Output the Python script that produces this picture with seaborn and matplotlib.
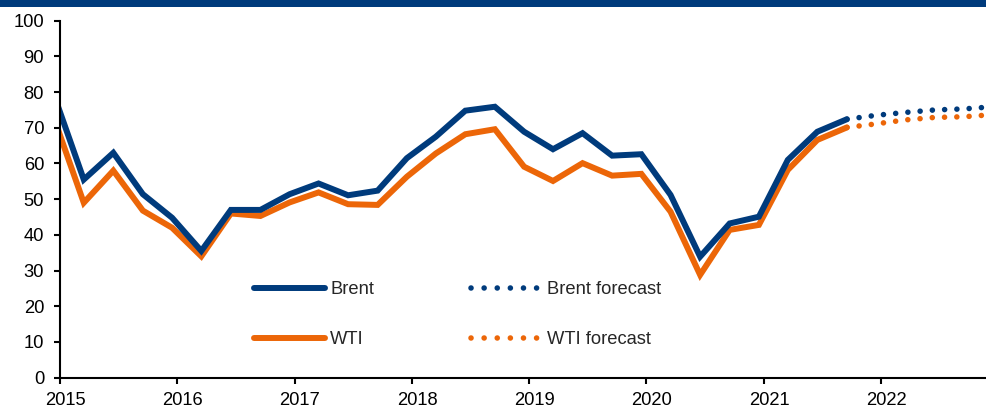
import numpy as np
import pandas as pd
import matplotlib
matplotlib.use("Agg")
import matplotlib.pyplot as plt
import matplotlib.dates as mdates
import matplotlib.transforms as mtransforms
from matplotlib.lines import Line2D
from matplotlib.patches import Rectangle
import seaborn as sns

# quarterly averages, USD/bbl
quarters = ["2014Q4",
            "2015Q1", "2015Q2", "2015Q3", "2015Q4",
            "2016Q1", "2016Q2", "2016Q3", "2016Q4",
            "2017Q1", "2017Q2", "2017Q3", "2017Q4",
            "2018Q1", "2018Q2", "2018Q3", "2018Q4",
            "2019Q1", "2019Q2", "2019Q3", "2019Q4",
            "2020Q1", "2020Q2", "2020Q3", "2020Q4",
            "2021Q1", "2021Q2", "2021Q3"]
brent = [78.5,
         55.5, 63.0, 51.4, 44.8,
         35.5, 47.0, 47.0, 51.4,
         54.4, 51.1, 52.4, 61.5,
         67.5, 74.8, 75.9, 68.9,
         64.0, 68.5, 62.2, 62.6,
         51.2, 33.9, 43.2, 45.1,
         61.0, 68.9, 72.4]
wti = [72.0,
       49.0, 58.0, 46.8, 42.0,
       34.0, 46.0, 45.3, 49.1,
       51.9, 48.6, 48.4, 56.3,
       62.8, 68.2, 69.6, 59.1,
       55.1, 60.1, 56.6, 57.1,
       46.5, 28.8, 41.4, 42.8,
       58.2, 66.6, 70.1]

fc_quarters = ["2021Q3", "2021Q4", "2022Q1", "2022Q2", "2022Q3", "2022Q4"]
brent_fc = [72.4, 73.5, 74.3, 75.0, 75.3, 75.9]
wti_fc = [70.1, 71.1, 72.2, 72.9, 73.1, 73.7]

BLUE = "#003B7C"
ORANGE = "#EC6608"
FS = 13.2


def q_to_date(q):
    # points sit in the middle of the last month of each quarter
    p = pd.PeriodIndex(q, freq="Q").asfreq("M", "end").to_timestamp()
    return p + pd.Timedelta(days=15)


hist = pd.DataFrame({"date": q_to_date(quarters), "Brent": brent, "WTI": wti})
fc = pd.DataFrame({"date": q_to_date(fc_quarters), "Brent": brent_fc, "WTI": wti_fc})

sns.set_style("ticks")
plt.rcParams["font.family"] = ["Liberation Sans", "DejaVu Sans"]

fig = plt.figure(figsize=(9.86, 4.07), dpi=100)
ax = fig.add_axes([60 / 986, 1 - 377.7 / 407, 925 / 986, 357 / 407])

dots = (0, (0.01, 2.2))
sns.lineplot(data=hist, x="date", y="Brent", ax=ax, color=BLUE, lw=4.3,
             solid_capstyle="round", solid_joinstyle="miter", zorder=3)
sns.lineplot(data=hist, x="date", y="WTI", ax=ax, color=ORANGE, lw=4.3,
             solid_capstyle="round", solid_joinstyle="miter", zorder=2)
sns.lineplot(data=fc, x="date", y="Brent", ax=ax, color=BLUE, lw=4.0,
             linestyle=dots, dash_capstyle="round", zorder=3)
sns.lineplot(data=fc, x="date", y="WTI", ax=ax, color=ORANGE, lw=4.0,
             linestyle=dots, dash_capstyle="round", zorder=2)

ax.set_xlim(pd.Timestamp("2015-01-01"), pd.Timestamp("2022-11-20"))
ax.set_ylim(0, 100)
ax.set_yticks(np.arange(0, 101, 10))
ax.xaxis.set_major_locator(mdates.YearLocator())
ax.xaxis.set_major_formatter(mdates.DateFormatter("%Y"))
ax.set_xlabel("")
ax.set_ylabel("")

for side in ["top", "right"]:
    ax.spines[side].set_visible(False)
for side in ["left", "bottom"]:
    ax.spines[side].set_linewidth(1.5)
    ax.spines[side].set_color("black")
    ax.spines[side].set_zorder(5)
ax.tick_params(axis="both", labelsize=FS, colors="black", width=1.5, length=4)
ax.tick_params(axis="y", pad=7.5)
ax.tick_params(axis="x", pad=6)

shift = mtransforms.ScaledTranslation(5 / 100, 0, fig.dpi_scale_trans)
for lab in ax.get_xticklabels():
    lab.set_transform(lab.get_transform() + shift)

handles = [
    Line2D([], [], color=BLUE, lw=4.3, solid_capstyle="round"),
    Line2D([], [], color=ORANGE, lw=4.3, solid_capstyle="round"),
    Line2D([], [], color=BLUE, lw=4.0, linestyle=(0, (0.01, 2.35)), dash_capstyle="round"),
    Line2D([], [], color=ORANGE, lw=4.0, linestyle=(0, (0.01, 2.35)), dash_capstyle="round"),
]
labels = ["Brent", "WTI", "Brent forecast", "WTI forecast"]
fig.legend(handles, labels, ncol=2, frameon=False, loc="upper left",
           bbox_to_anchor=(254 / 986, 1 - 281 / 407), borderpad=0, borderaxespad=0,
           handlelength=3.85, handletextpad=0.3, columnspacing=5.3,
           labelspacing=1.8, fontsize=FS)

fig.add_artist(Rectangle((0, 1 - 7 / 407), 1, 7 / 407, transform=fig.transFigure,
                         color=BLUE, lw=0))

fig.savefig("out.png", dpi=100)
